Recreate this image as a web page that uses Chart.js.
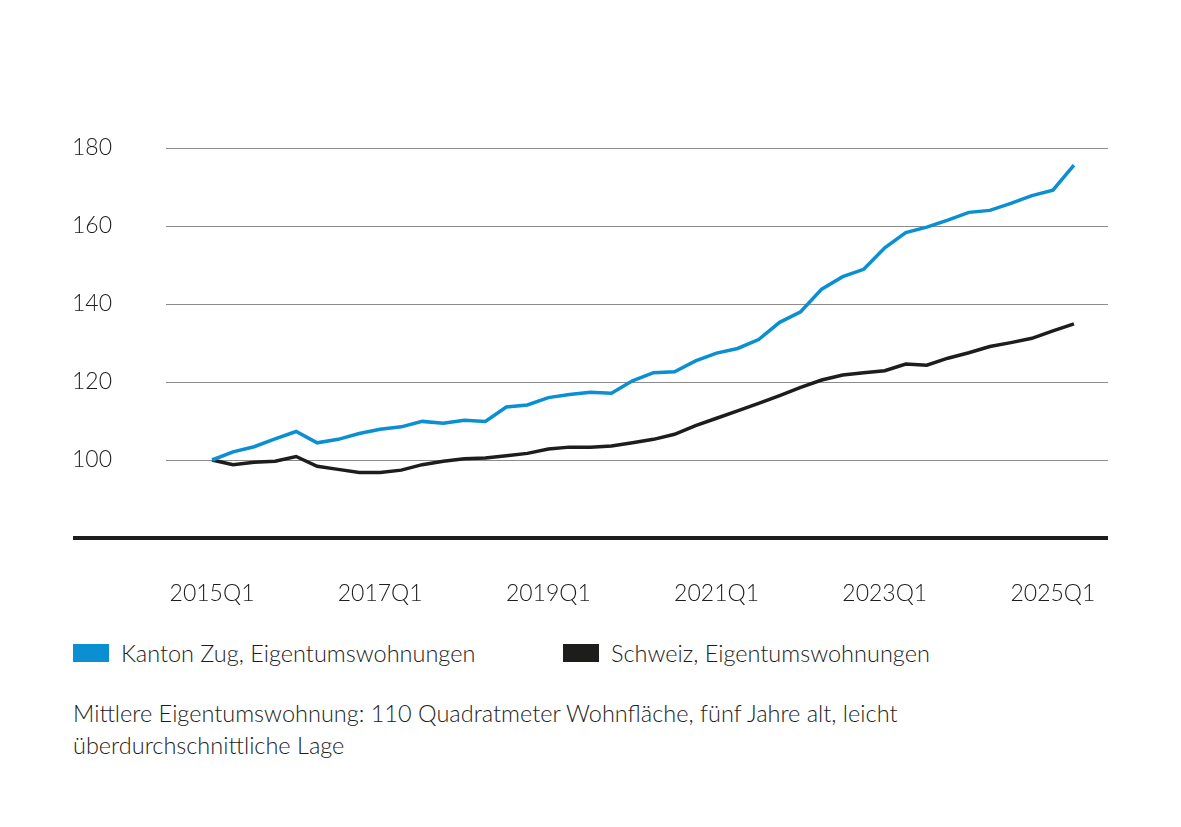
<!DOCTYPE html>
<html>
<head>
<meta charset="utf-8">
<script src="https://cdn.jsdelivr.net/npm/chart.js@4"></script>
<style>
  body { margin: 0; background: #fff; font-family: 'Lato', sans-serif; font-weight: 300; color: #1d1d1b; }
  #wrap { position: absolute; left: 0; top: 0; width: 1181px; height: 620px; }
  .legend { position: absolute; top: 640px; font-size: 23.5px; line-height: 26px; }
  .legend span.box { position: absolute; left: 0; top: 4px; width: 36px; height: 18px; }
  .legend span.txt { position: absolute; left: 48px; white-space: nowrap; }
  .note { position: absolute; left: 73px; top: 697px; font-size: 23.5px; line-height: 32px; width: 950px; }
</style>
</head>
<body>
<div id="wrap"><canvas id="chart"></canvas></div>
<div class="legend" style="left:73px"><span class="box" style="background:#0a8fd2"></span><span class="txt">Kanton Zug, Eigentumswohnungen</span></div>
<div class="legend" style="left:563px"><span class="box" style="background:#1d1d1b"></span><span class="txt">Schweiz, Eigentumswohnungen</span></div>
<div class="note">Mittlere Eigentumswohnung: 110 Quadratmeter Wohnfläche, fünf Jahre alt, leicht<br>überdurchschnittliche Lage</div>
<script>
// quarters 2015Q1 .. 2025Q2
const quarters = [];
for (let y = 2015; y <= 2025; y++) {
    for (let q = 1; q <= 4; q++) quarters.push(y + 'Q' + q);
}
quarters.length = 42;

const tickLabels = ['2015Q1', '2017Q1', '2019Q1', '2021Q1', '2023Q1', '2025Q1'];
const yTicks = [100, 120, 140, 160, 180];

const zug = [
    100, 102.1, 103.4, 105.4, 107.3, 104.4, 105.3, 106.8, 107.9, 108.5,
    109.9, 109.4, 110.2, 109.9, 113.6, 114.1, 116.0, 116.8, 117.4, 117.1,
    120.3, 122.4, 122.6, 125.4, 127.4, 128.6, 130.9, 135.3, 138.0, 143.8,
    147.0, 148.9, 154.4, 158.3, 159.7, 161.5, 163.5, 164.0, 165.8, 167.8,
    169.2, 175.6
];
const schweiz = [
    100, 98.8, 99.4, 99.7, 100.9, 98.4, 97.6, 96.8, 96.8, 97.4,
    98.8, 99.7, 100.3, 100.5, 101.1, 101.7, 102.8, 103.3, 103.3, 103.6,
    104.4, 105.3, 106.6, 108.8, 110.7, 112.6, 114.5, 116.5, 118.6, 120.5,
    121.8, 122.4, 122.9, 124.6, 124.3, 126.1, 127.5, 129.1, 130.1, 131.2,
    133.1, 134.9
];

const toPoints = arr => arr.map((v, i) => ({ x: i, y: v }));

// thick base line at the bottom of the value axis, running out to the left margin
const baseLine = {
    id: 'baseLine',
    beforeDatasetsDraw(chart) {
        const ctx = chart.ctx;
        const y = chart.scales.y.getPixelForValue(chart.scales.y.min);
        ctx.save();
        ctx.strokeStyle = '#1d1d1b';
        ctx.lineWidth = 4;
        ctx.beginPath();
        ctx.moveTo(73, y);
        ctx.lineTo(chart.chartArea.right, y);
        ctx.stroke();
        ctx.restore();
    }
};

const font = { family: 'Lato', size: 23, weight: 300 };

new Chart(document.getElementById('chart'), {
    type: 'line',
    data: {
        datasets: [{
            label: 'Kanton Zug, Eigentumswohnungen',
            data: toPoints(zug),
            borderColor: '#0a8fd2',
            borderWidth: 3.5,
            pointRadius: 0,
            tension: 0
        }, {
            label: 'Schweiz, Eigentumswohnungen',
            data: toPoints(schweiz),
            borderColor: '#1d1d1b',
            borderWidth: 3.5,
            pointRadius: 0,
            tension: 0
        }]
    },
    options: {
        responsive: true,
        maintainAspectRatio: false,
        animation: false,
        layout: { padding: { top: 148, right: 73, left: 0, bottom: 0 } },
        plugins: { legend: { display: false }, tooltip: { enabled: false } },
        scales: {
            x: {
                type: 'linear',
                min: -2.19,
                max: 42.62,
                grid: { display: false },
                border: { display: false },
                afterBuildTicks(scale) {
                    scale.ticks = tickLabels.map(l => ({ value: quarters.indexOf(l) }));
                },
                afterFit(scale) { scale.height = 82; },
                ticks: {
                    color: '#1d1d1b',
                    font,
                    padding: 34,
                    maxRotation: 0,
                    autoSkip: false,
                    callback: v => quarters[v]
                }
            },
            y: {
                min: 80,
                max: 180,
                grid: {
                    color: ctx => ctx.tick && ctx.tick.value === 80 ? 'rgba(0,0,0,0)' : '#8c8c8c',
                    lineWidth: 1,
                    drawTicks: false
                },
                border: { display: false },
                afterBuildTicks(scale) {
                    scale.ticks = [80].concat(yTicks).map(v => ({ value: v }));
                },
                afterFit(scale) { scale.width = 166; },
                ticks: {
                    color: '#1d1d1b',
                    font,
                    padding: 54,
                    callback: v => yTicks.includes(v) ? String(v) : ''
                }
            }
        }
    },
    plugins: [baseLine]
});
</script>
</body>
</html>
